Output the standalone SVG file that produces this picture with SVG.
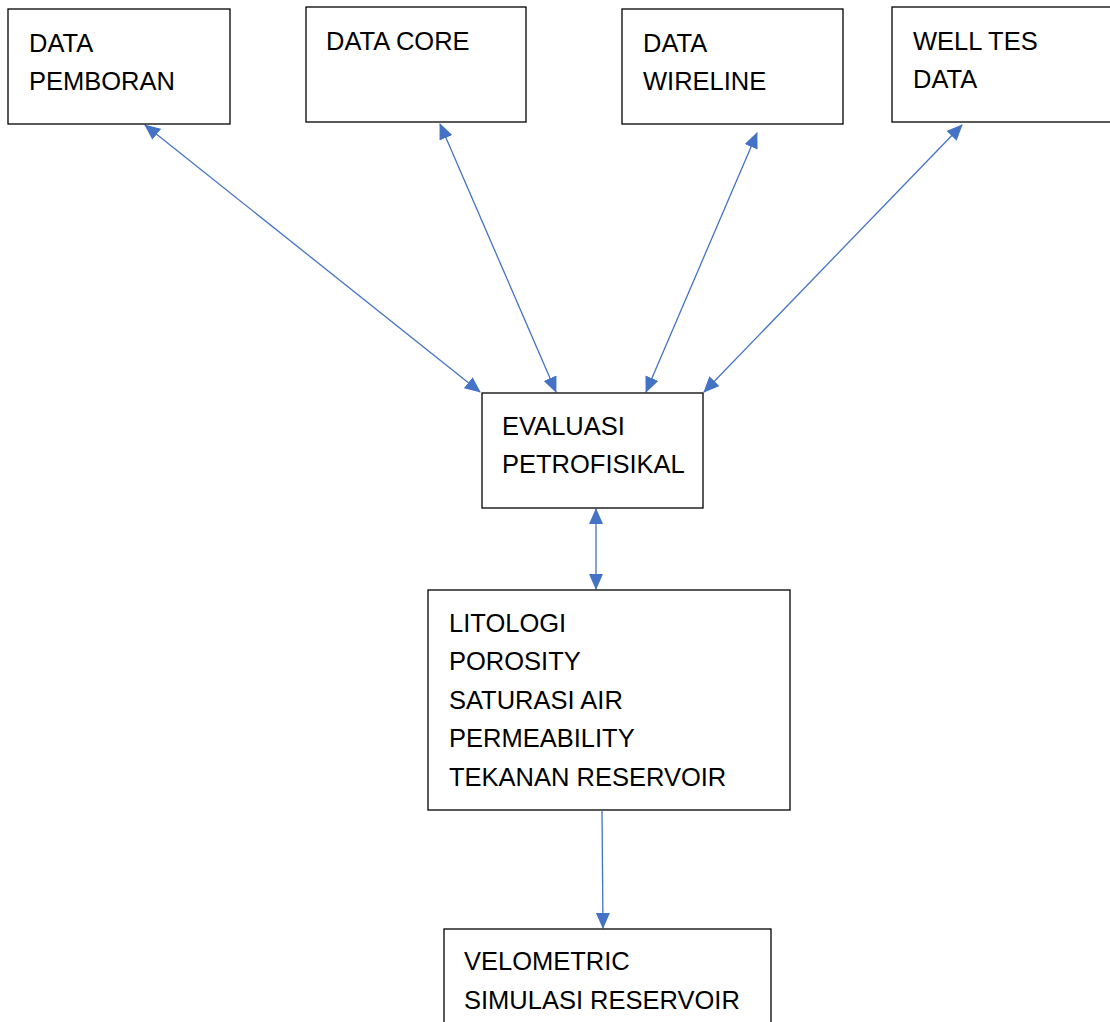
<svg xmlns="http://www.w3.org/2000/svg" width="1110" height="1022" viewBox="0 0 1110 1022">
<style>
.box{fill:#fff;stroke:#000;stroke-width:1.3}
.t{font-family:"Liberation Sans",Arial,sans-serif;font-size:25.5px;fill:#000}
.c{stroke:#4472C4;stroke-width:1.3;fill:none}
</style>
<defs>
<marker id="ah" markerUnits="userSpaceOnUse" markerWidth="16" markerHeight="14" refX="15" refY="7" orient="auto-start-reverse" viewBox="0 0 16 14">
<path d="M0,0 L16,7 L0,14 Z" fill="#4472C4"/>
</marker>
</defs>
<rect width="1110" height="1022" fill="#fff"/>
<g id="connectors">
<line class="c" x1="145" y1="125" x2="480" y2="392" marker-start="url(#ah)" marker-end="url(#ah)"/>
<line class="c" x1="440" y1="124" x2="556" y2="392" marker-start="url(#ah)" marker-end="url(#ah)"/>
<line class="c" x1="757" y1="133" x2="646" y2="392" marker-start="url(#ah)" marker-end="url(#ah)"/>
<line class="c" x1="962" y1="125" x2="704" y2="392" marker-start="url(#ah)" marker-end="url(#ah)"/>
<line class="c" x1="596" y1="509" x2="596" y2="589" marker-start="url(#ah)" marker-end="url(#ah)"/>
<line class="c" x1="602" y1="811" x2="603" y2="928" marker-end="url(#ah)"/>
</g>
<g id="node-pemboran">
<rect class="box" x="8" y="9" width="222" height="115"/>
<text class="t" x="29" y="52">DATA</text>
<text class="t" x="29" y="90">PEMBORAN</text>
</g>
<g id="node-core">
<rect class="box" x="306" y="7" width="220" height="115"/>
<text class="t" x="326" y="50">DATA CORE</text>
</g>
<g id="node-wireline">
<rect class="box" x="622" y="9" width="221" height="115"/>
<text class="t" x="643" y="52">DATA</text>
<text class="t" x="643" y="90">WIRELINE</text>
</g>
<g id="node-welltes">
<rect class="box" x="892" y="7" width="230" height="115"/>
<text class="t" x="913" y="50">WELL TES</text>
<text class="t" x="913" y="88">DATA</text>
</g>
<g id="node-evaluasi">
<rect class="box" x="482" y="393" width="221" height="115"/>
<text class="t" x="502" y="435">EVALUASI</text>
<text class="t" x="502" y="473">PETROFISIKAL</text>
</g>
<g id="node-litologi">
<rect class="box" x="428" y="590" width="362" height="220"/>
<text class="t" x="449" y="632">LITOLOGI</text>
<text class="t" x="449" y="670">POROSITY</text>
<text class="t" x="449" y="709">SATURASI AIR</text>
<text class="t" x="449" y="747">PERMEABILITY</text>
<text class="t" x="449" y="786">TEKANAN RESERVOIR</text>
</g>
<g id="node-velometric">
<rect class="box" x="444" y="929" width="327" height="110"/>
<text class="t" x="464" y="970">VELOMETRIC</text>
<text class="t" x="464" y="1009">SIMULASI RESERVOIR</text>
</g>
</svg>
